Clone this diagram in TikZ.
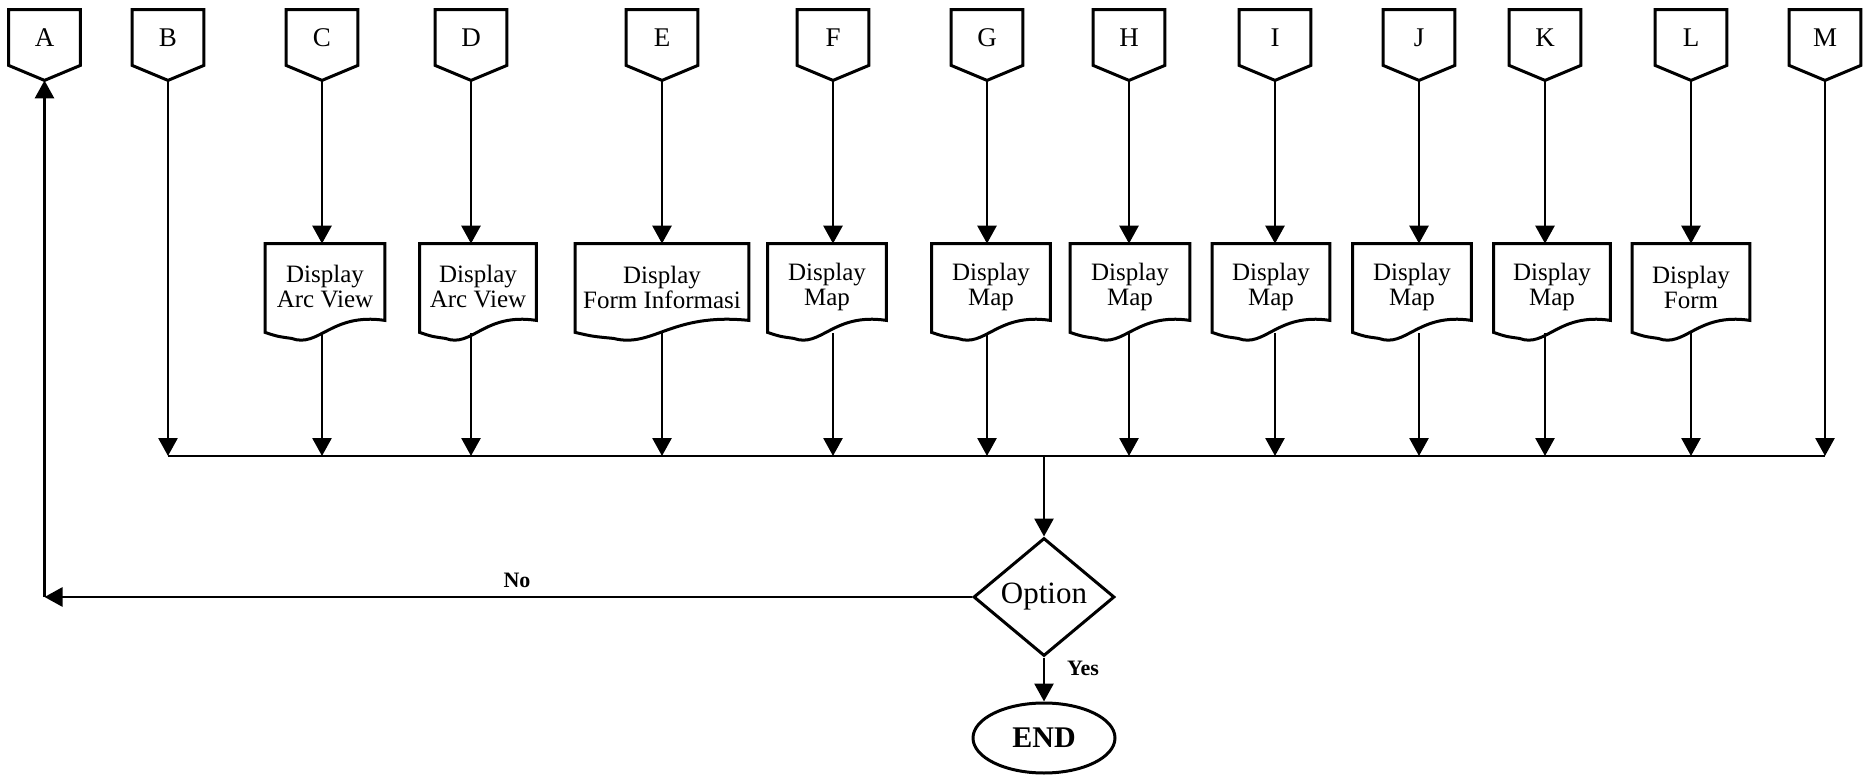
\documentclass[tikz,border=0pt]{standalone}
\usepackage{fontspec}
\setmainfont{Liberation Serif}
\usetikzlibrary{shapes.geometric,arrows.meta,calc}
\begin{document}
\begin{tikzpicture}[x=0.5pt,y=-0.5pt,
  conn/.style={minimum width=35.5pt, minimum height=27.5pt, inner sep=0pt, font=\fontsize{13.5}{15}\selectfont},
  docnode/.style={minimum height=43pt, inner sep=0pt, align=center, font=\fontsize{12.5}{12.5}\selectfont},
  flow/.style={line width=1.4pt, -{Triangle[width=9.5pt,length=9pt]}},
  outline/.style={line width=1.5pt, line join=miter},
  lbl/.style={font=\bfseries\fontsize{11}{13}\selectfont, inner sep=0pt}]
\useasboundingbox (0,0) rectangle (1864,775);

% off-page connectors
\foreach \k/\xx in {A/44.5,B/168,C/322,D/471,E/662,F/833,G/987,H/1129,I/1275,J/1419,K/1545,L/1691,M/1825} {
  \node[conn] (c\k) at (\xx,37.5) {\k};
  \coordinate (t\k) at ([yshift=-7.5pt]c\k.south);
  \draw[outline] let \p1=(c\k.north west), \p2=(c\k.south east) in
    (\x1,\y1) -- (\x2,\y1) -- (\x2,\y2) -- (t\k) -- (\x1,\y2) -- cycle;
}

% document boxes
\foreach \k/\cx/\bw/\txt in {C/325/119/{Display\\Arc View},D/478/116/{Display\\Arc View},E/662/173/{Display\\Form Informasi},F/827/118/{Display\\Map},G/991/118/{Display\\Map},H/1130/119/{Display\\Map},I/1271/117/{Display\\Map},J/1412/118/{Display\\Map},K/1552/116/{Display\\Map},L/1691/117/{Display\\Form}} {
  \node[docnode, minimum width=\bw*0.5pt] (b\k) at (\cx,287) {\txt};
  \draw[outline] let \p1=(b\k.north west), \p2=(b\k.south east), \n1={\x2-\x1} in
    (\x1,\y1) -- (\x2,\y1) -- (\x2,\y2+5pt)
    .. controls ({\x1+0.55*\n1},\y2+9pt) and ({\x1+0.45*\n1},\y2-9pt) .. ({\x1+0.22*\n1},\y2-4pt)
    .. controls ({\x1+0.1*\n1},\y2-3pt) .. (\x1,\y2-1pt) -- cycle;
  \draw[flow] (t\k) -- (t\k |- b\k.north);
}

% bus
\coordinate (busL) at (168,456);
\coordinate (busR) at (1825,456);
\coordinate (busJ) at (1044,456);
\draw[line width=1.4pt] (busL) -- (busR);
\draw[flow] (tB) -- (busL);
\draw[flow] (tM) -- (busR);
\foreach \k in {C,D,E,F,G,H,I,J,K,L} {
  \draw[flow] ([yshift=-1.5pt]t\k |- b\k.south) -- (t\k |- busL);
}

% decision and end
\node[diamond, draw, line width=1.5pt, minimum width=70.5pt, minimum height=59pt, inner sep=0pt, aspect=1.2,
      font=\fontsize{15.5}{17}\selectfont] (opt) at (1044,597) {Option};
\draw[flow] (busJ) -- (opt.north);
\node[ellipse, draw, line width=1.5pt, minimum width=71pt, minimum height=35pt, inner sep=0pt,
      font=\bfseries\fontsize{15}{17}\selectfont] (end) at (1044,738) {END};
\draw[flow] (opt.south) -- (end.north);
\node[lbl] (yes) at (1083,668) {Yes};

\coordinate (Acor) at (tA |- opt.west);
\draw[flow] (opt.west) -- (Acor);
\draw[flow] (Acor) -- (tA);
\node[lbl] (no) at (517,580) {No};
\end{tikzpicture}
\end{document}
